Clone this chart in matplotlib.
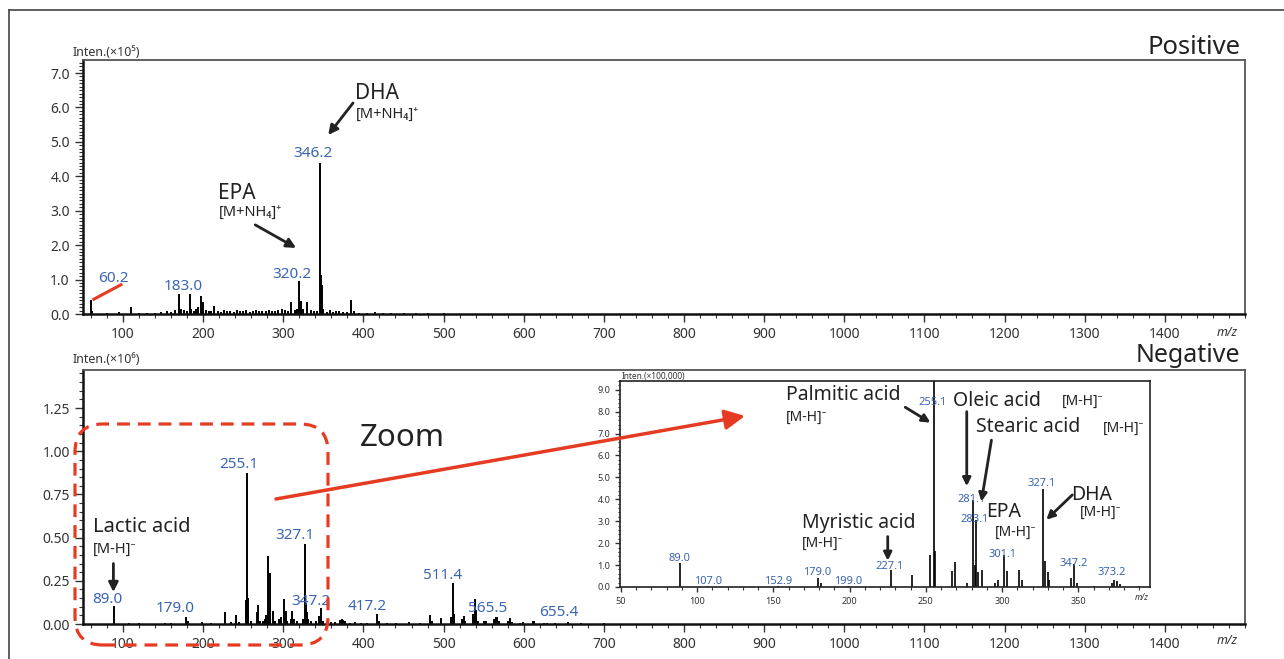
import matplotlib
matplotlib.use("Agg")
import matplotlib.pyplot as plt
from matplotlib.patches import FancyArrowPatch, FancyBboxPatch
from matplotlib.lines import Line2D
from matplotlib.transforms import IdentityTransform
from matplotlib.ticker import MultipleLocator

plt.rcParams['font.family'] = ['Noto Sans', 'DejaVu Sans']

###################################
# Data: positive mode spectrum (Inten. x 10^5)

pos_mz = [60.2, 61, 80, 95, 110, 120, 130, 140, 148, 155, 160, 165, 170, 172,
          176, 180, 183.0, 185, 188, 191, 194, 197, 200, 203, 207, 210, 214,
          218, 222, 226, 230, 234, 238, 242, 246, 250, 254, 258, 262, 266, 270,
          274, 278, 282, 286, 290, 294, 298, 302, 306, 310, 314, 317, 320.2,
          322, 325, 330, 334, 338, 342, 346.2, 347.2, 348.2, 350, 354, 358,
          362, 366, 370, 375, 380, 385, 388, 395, 405, 415, 425, 435, 450,
          465, 480, 500]
pos_int = [0.41, 0.10, 0.03, 0.05, 0.21, 0.03, 0.04, 0.04, 0.05, 0.10, 0.06,
           0.12, 0.59, 0.15, 0.12, 0.10, 0.59, 0.15, 0.10, 0.14, 0.20, 0.53,
           0.36, 0.12, 0.08, 0.10, 0.24, 0.08, 0.06, 0.12, 0.08, 0.10, 0.07,
           0.12, 0.08, 0.09, 0.12, 0.07, 0.08, 0.12, 0.09, 0.10, 0.08, 0.12,
           0.10, 0.09, 0.12, 0.14, 0.12, 0.10, 0.36, 0.12, 0.15, 0.97, 0.39,
           0.15, 0.34, 0.12, 0.08, 0.10, 4.40, 1.14, 0.83, 0.15, 0.07, 0.12,
           0.06, 0.08, 0.10, 0.06, 0.05, 0.41, 0.08, 0.04, 0.04, 0.05, 0.03,
           0.04, 0.03, 0.03, 0.02, 0.02]

pos_labels = ['60.2', '183.0', '320.2', '346.2']
pos_label_x = [88, 175, 311, 337]
pos_label_y = [1.04, 0.81, 1.16, 4.65]

###################################
# Data: negative mode spectrum (Inten. x 10^6)

neg_mz = [89.0, 107, 120, 153, 160, 179.0, 181, 199, 210, 227.1, 235, 241,
          245, 253, 255.1, 256, 260, 267, 269, 271, 275, 277, 279, 281.1, 282,
          283.1, 284, 287, 290, 295, 297, 301.1, 303, 305, 309, 311, 313, 317,
          325, 327.1, 328, 329, 331, 335, 341, 345, 347.2, 349, 355, 360, 365,
          371, 373.2, 375, 377, 383, 390, 397, 405, 417.2, 419, 430, 441, 457,
          470, 483, 485, 497, 509, 511.4, 513, 523, 525, 527, 537, 539, 541,
          543, 551, 553, 563, 565.5, 567, 569, 581, 583, 585, 595, 599, 611,
          613, 625, 629, 639, 655.4, 671, 700]
neg_int = [0.104, 0.006, 0.005, 0.008, 0.006, 0.038, 0.015, 0.010, 0.008,
           0.071, 0.010, 0.050, 0.010, 0.138, 0.875, 0.150, 0.020, 0.067,
           0.110, 0.020, 0.015, 0.030, 0.050, 0.392, 0.100, 0.296, 0.080,
           0.075, 0.020, 0.030, 0.040, 0.142, 0.075, 0.020, 0.030, 0.075,
           0.030, 0.015, 0.030, 0.465, 0.120, 0.070, 0.030, 0.015, 0.015,
           0.045, 0.094, 0.020, 0.010, 0.012, 0.010, 0.025, 0.030, 0.025,
           0.020, 0.008, 0.012, 0.008, 0.006, 0.058, 0.015, 0.006, 0.008,
           0.012, 0.006, 0.050, 0.015, 0.035, 0.040, 0.240, 0.060, 0.030,
           0.046, 0.020, 0.060, 0.142, 0.080, 0.020, 0.015, 0.020, 0.030,
           0.042, 0.040, 0.020, 0.015, 0.033, 0.010, 0.008, 0.010, 0.020,
           0.015, 0.006, 0.008, 0.006, 0.013, 0.004, 0.003]

neg_labels = ['89.0', '179.0', '255.1', '327.1', '347.2', '417.2', '511.4',
              '565.5', '655.4']
neg_label_x = [80, 165, 245, 315, 335, 405, 499, 555, 644]
neg_label_y = [0.14, 0.09, 0.925, 0.51, 0.13, 0.10, 0.28, 0.09, 0.065]

###################################
# Data: zoomed negative spectrum (Inten. x 100,000)

zoom_mz = [89.0, 107.0, 152.9, 179.0, 181, 199.0, 227.1, 241, 253, 255.1, 256,
           267, 269, 277, 281.1, 282, 283.1, 284, 287, 295, 297, 301.1, 303,
           311, 313, 327.1, 328, 330, 331, 345, 347.2, 349, 360, 372, 373.2,
           375, 377, 390]
zoom_int = [1.11, 0.05, 0.05, 0.43, 0.20, 0.06, 0.79, 0.53, 1.47, 10.0, 1.63,
            0.73, 1.14, 0.20, 3.98, 1.00, 3.07, 0.70, 0.76, 0.20, 0.30, 1.44,
            0.73, 0.76, 0.30, 4.48, 1.17, 0.70, 0.30, 0.43, 1.03, 0.20, 0.05,
            0.20, 0.30, 0.25, 0.15, 0.06]

zoom_labels = ['89.0', '107.0', '152.9', '179.0', '199.0', '227.1', '255.1',
               '281.1', '283.1', '301.1', '327.1', '347.2', '373.2']
zoom_label_x = [88.5, 107, 153, 179, 199, 226, 254.4, 280, 282, 300, 326, 347, 372]
zoom_label_y = [1.3, 0.27, 0.27, 0.64, 0.27, 0.95, 8.4, 4.0, 3.07, 1.5, 4.7, 1.06, 0.65]

###################################
# Styling helpers

BLUE = '#3a64b4'
RED = '#e53b22'
DARK = '#222222'
GREY = '#333333'


def style_axes(ax, tick_size, major_len, minor_len):
    for side in ['top', 'right']:
        ax.spines[side].set_color('#555555')
        ax.spines[side].set_linewidth(1.3)
    for side in ['left', 'bottom']:
        ax.spines[side].set_color('#111111')
        ax.spines[side].set_linewidth(1.8)
    ax.tick_params(which='major', direction='out', length=major_len, width=1,
                   labelsize=tick_size, colors=GREY, top=False, right=False)
    ax.tick_params(which='minor', direction='out', length=minor_len, width=0.8,
                   colors=GREY, top=False, right=False)


def arrow(ax, tail, tip, scale=14, lw=2):
    ax.annotate('', xy=tip, xytext=tail,
                arrowprops=dict(arrowstyle='-|>', color=DARK, lw=lw,
                                mutation_scale=scale, shrinkA=0, shrinkB=0))


fig = plt.figure(figsize=(12.84, 6.59), dpi=100)

###################################
# Positive panel

ax1 = fig.add_axes([0.0646, 0.5235, 0.905, 0.3855])
ax1.vlines(pos_mz, 0, pos_int, color='black', lw=1.4)
ax1.set_xlim(50, 1500)
ax1.set_ylim(0, 7.38)
ax1.set_xticks(range(100, 1500, 100))
ax1.set_yticks([0, 1, 2, 3, 4, 5, 6, 7])
ax1.set_yticklabels(['%.1f' % v for v in [0, 1, 2, 3, 4, 5, 6, 7]])
ax1.xaxis.set_minor_locator(MultipleLocator(20))
ax1.yaxis.set_minor_locator(MultipleLocator(0.1))
style_axes(ax1, 10, 6, 3)

for lab, x, y in zip(pos_labels, pos_label_x, pos_label_y):
    ax1.text(x, y, lab, color=BLUE, fontsize=11, ha='center', va='center')

ax1.plot([62, 99], [0.41, 0.87], color=RED, lw=2.2, solid_capstyle='butt')
ax1.text(390, 6.4, 'DHA', fontsize=15, color=DARK, ha='left', va='center')
ax1.text(390, 5.8, '[M+NH₄]⁺', fontsize=10.5, color=DARK, ha='left', va='center')
arrow(ax1, (387, 6.13), (356, 5.2))
ax1.text(219, 3.5, 'EPA', fontsize=15, color=DARK, ha='left', va='center')
ax1.text(219, 2.95, '[M+NH₄]⁺', fontsize=10.5, color=DARK, ha='left', va='center')
arrow(ax1, (265, 2.59), (316, 1.92))

fig.text(73 / 1284, 1 - 52 / 659, 'Inten.(×10⁵)', fontsize=9, color=GREY,
         ha='left', va='center')
fig.text(1240 / 1284, 1 - 47 / 659, 'Positive', fontsize=18.5, color=DARK,
         ha='right', va='center')
fig.text(1227 / 1284, 1 - 332 / 659, 'm/z', fontsize=9, style='italic',
         color=GREY, ha='center', va='center')

###################################
# Negative panel

ax2 = fig.add_axes([0.0646, 0.0531, 0.905, 0.3854])
ax2.vlines(neg_mz, 0, neg_int, color='black', lw=1.4)
ax2.set_xlim(50, 1500)
ax2.set_ylim(0, 1.47)
ax2.set_xticks(range(100, 1500, 100))
ax2.set_yticks([0, 0.25, 0.5, 0.75, 1.0, 1.25])
ax2.set_yticklabels(['%.2f' % v for v in [0, 0.25, 0.5, 0.75, 1.0, 1.25]])
ax2.xaxis.set_minor_locator(MultipleLocator(20))
ax2.yaxis.set_minor_locator(MultipleLocator(0.05))
style_axes(ax2, 10, 6, 3)

for lab, x, y in zip(neg_labels, neg_label_x, neg_label_y):
    ax2.text(x, y, lab, color=BLUE, fontsize=11, ha='center', va='center')

ax2.text(62, 0.56, 'Lactic acid', fontsize=14.5, color=DARK, ha='left', va='center')
ax2.text(62, 0.43, '[M-H]⁻', fontsize=10.5, color=DARK, ha='left', va='center')
arrow(ax2, (88, 0.35), (88, 0.185))
ax2.text(395, 1.076, 'Zoom', fontsize=22.5, color=DARK, ha='left', va='center')

fig.text(73 / 1284, 1 - 360 / 659, 'Inten.(×10⁶)', fontsize=9, color=GREY,
         ha='left', va='center')
fig.text(1240 / 1284, 1 - 362 / 659, 'Negative', fontsize=18, color=DARK,
         ha='right', va='baseline')
fig.text(1227 / 1284, 1 - 640 / 659, 'm/z', fontsize=9, style='italic',
         color=GREY, ha='center', va='center')

###################################
# Inset: zoom of the negative spectrum

ax3 = fig.add_axes([0.4829, 0.1093, 0.4128, 0.3126])
ax3.vlines(zoom_mz, 0, zoom_int, color='black', lw=1.2)
ax3.set_xlim(49.5, 397)
ax3.set_ylim(0, 9.4)
ax3.set_xticks([50, 100, 150, 200, 250, 300, 350])
ax3.set_yticks(range(0, 10))
ax3.set_yticklabels(['%.1f' % v for v in range(0, 10)])
ax3.xaxis.set_minor_locator(MultipleLocator(10))
ax3.yaxis.set_minor_locator(MultipleLocator(0.2))
style_axes(ax3, 6.5, 3.5, 1.8)
for side in ['top', 'right', 'left', 'bottom']:
    ax3.spines[side].set_linewidth(1.2)
    ax3.spines[side].set_color('#222222')

for lab, x, y in zip(zoom_labels, zoom_label_x, zoom_label_y):
    ax3.text(x, y, lab, color=BLUE, fontsize=8, ha='center', va='center')

ax3.text(158, 8.75, 'Palmitic acid', fontsize=14, color=DARK, ha='left', va='center')
ax3.text(158, 7.75, '[M-H]⁻', fontsize=10, color=DARK, ha='left', va='center')
arrow(ax3, (236.5, 8.2), (253, 7.5), scale=12)
ax3.text(268, 8.5, 'Oleic acid', fontsize=14, color=DARK, ha='left', va='center')
ax3.text(339, 8.45, '[M-H]⁻', fontsize=10, color=DARK, ha='left', va='center')
arrow(ax3, (276.8, 8.0), (276.8, 4.6), scale=12)
ax3.text(283, 7.3, 'Stearic acid', fontsize=14, color=DARK, ha='left', va='center')
ax3.text(366, 7.25, '[M-H]⁻', fontsize=10, color=DARK, ha='left', va='center')
arrow(ax3, (293, 6.7), (286.4, 3.9), scale=12)
ax3.text(289.5, 3.4, 'EPA', fontsize=14, color=DARK, ha='left', va='center')
ax3.text(295, 2.5, '[M-H]⁻', fontsize=10, color=DARK, ha='left', va='center')
ax3.text(345.5, 4.2, 'DHA', fontsize=14, color=DARK, ha='left', va='center')
ax3.text(351, 3.4, '[M-H]⁻', fontsize=10, color=DARK, ha='left', va='center')
arrow(ax3, (346, 4.2), (329, 3.07), scale=12)
ax3.text(169, 2.9, 'Myristic acid', fontsize=14, color=DARK, ha='left', va='center')
ax3.text(169, 2.0, '[M-H]⁻', fontsize=10, color=DARK, ha='left', va='center')
arrow(ax3, (225, 2.3), (225, 1.2), scale=12)

fig.text(622 / 1284, 1 - 377 / 659, 'Inten.(×100,000)', fontsize=6,
         color=GREY, ha='left', va='center')
fig.text(1142 / 1284, 1 - 598 / 659, 'm/z', fontsize=6, style='italic',
         color=GREY, ha='center', va='center')

###################################
# Overlays: dashed zoom box, red arrow, outer frame

zoom_box = FancyBboxPatch((75, 659 - 645), 253, 221,
                          boxstyle='round,pad=0,rounding_size=28',
                          transform=IdentityTransform(), fill=False,
                          edgecolor=RED, lw=2.3, linestyle=(0, (4, 2.5)),
                          zorder=20)
fig.add_artist(zoom_box)

red_arrow = FancyArrowPatch((276, 659 - 499), (745, 659 - 416),
                            transform=IdentityTransform(),
                            arrowstyle='-|>', mutation_scale=30,
                            color=RED, lw=2.5, shrinkA=0, shrinkB=0, zorder=21)
fig.add_artist(red_arrow)

fig.add_artist(Line2D([9 / 1284, 9 / 1284], [0, 1 - 10 / 659],
                      transform=fig.transFigure, color='#444444', lw=1.2))
fig.add_artist(Line2D([9 / 1284, 1], [1 - 10 / 659, 1 - 10 / 659],
                      transform=fig.transFigure, color='#444444', lw=1.2))

fig.savefig('out.png', dpi=100)
